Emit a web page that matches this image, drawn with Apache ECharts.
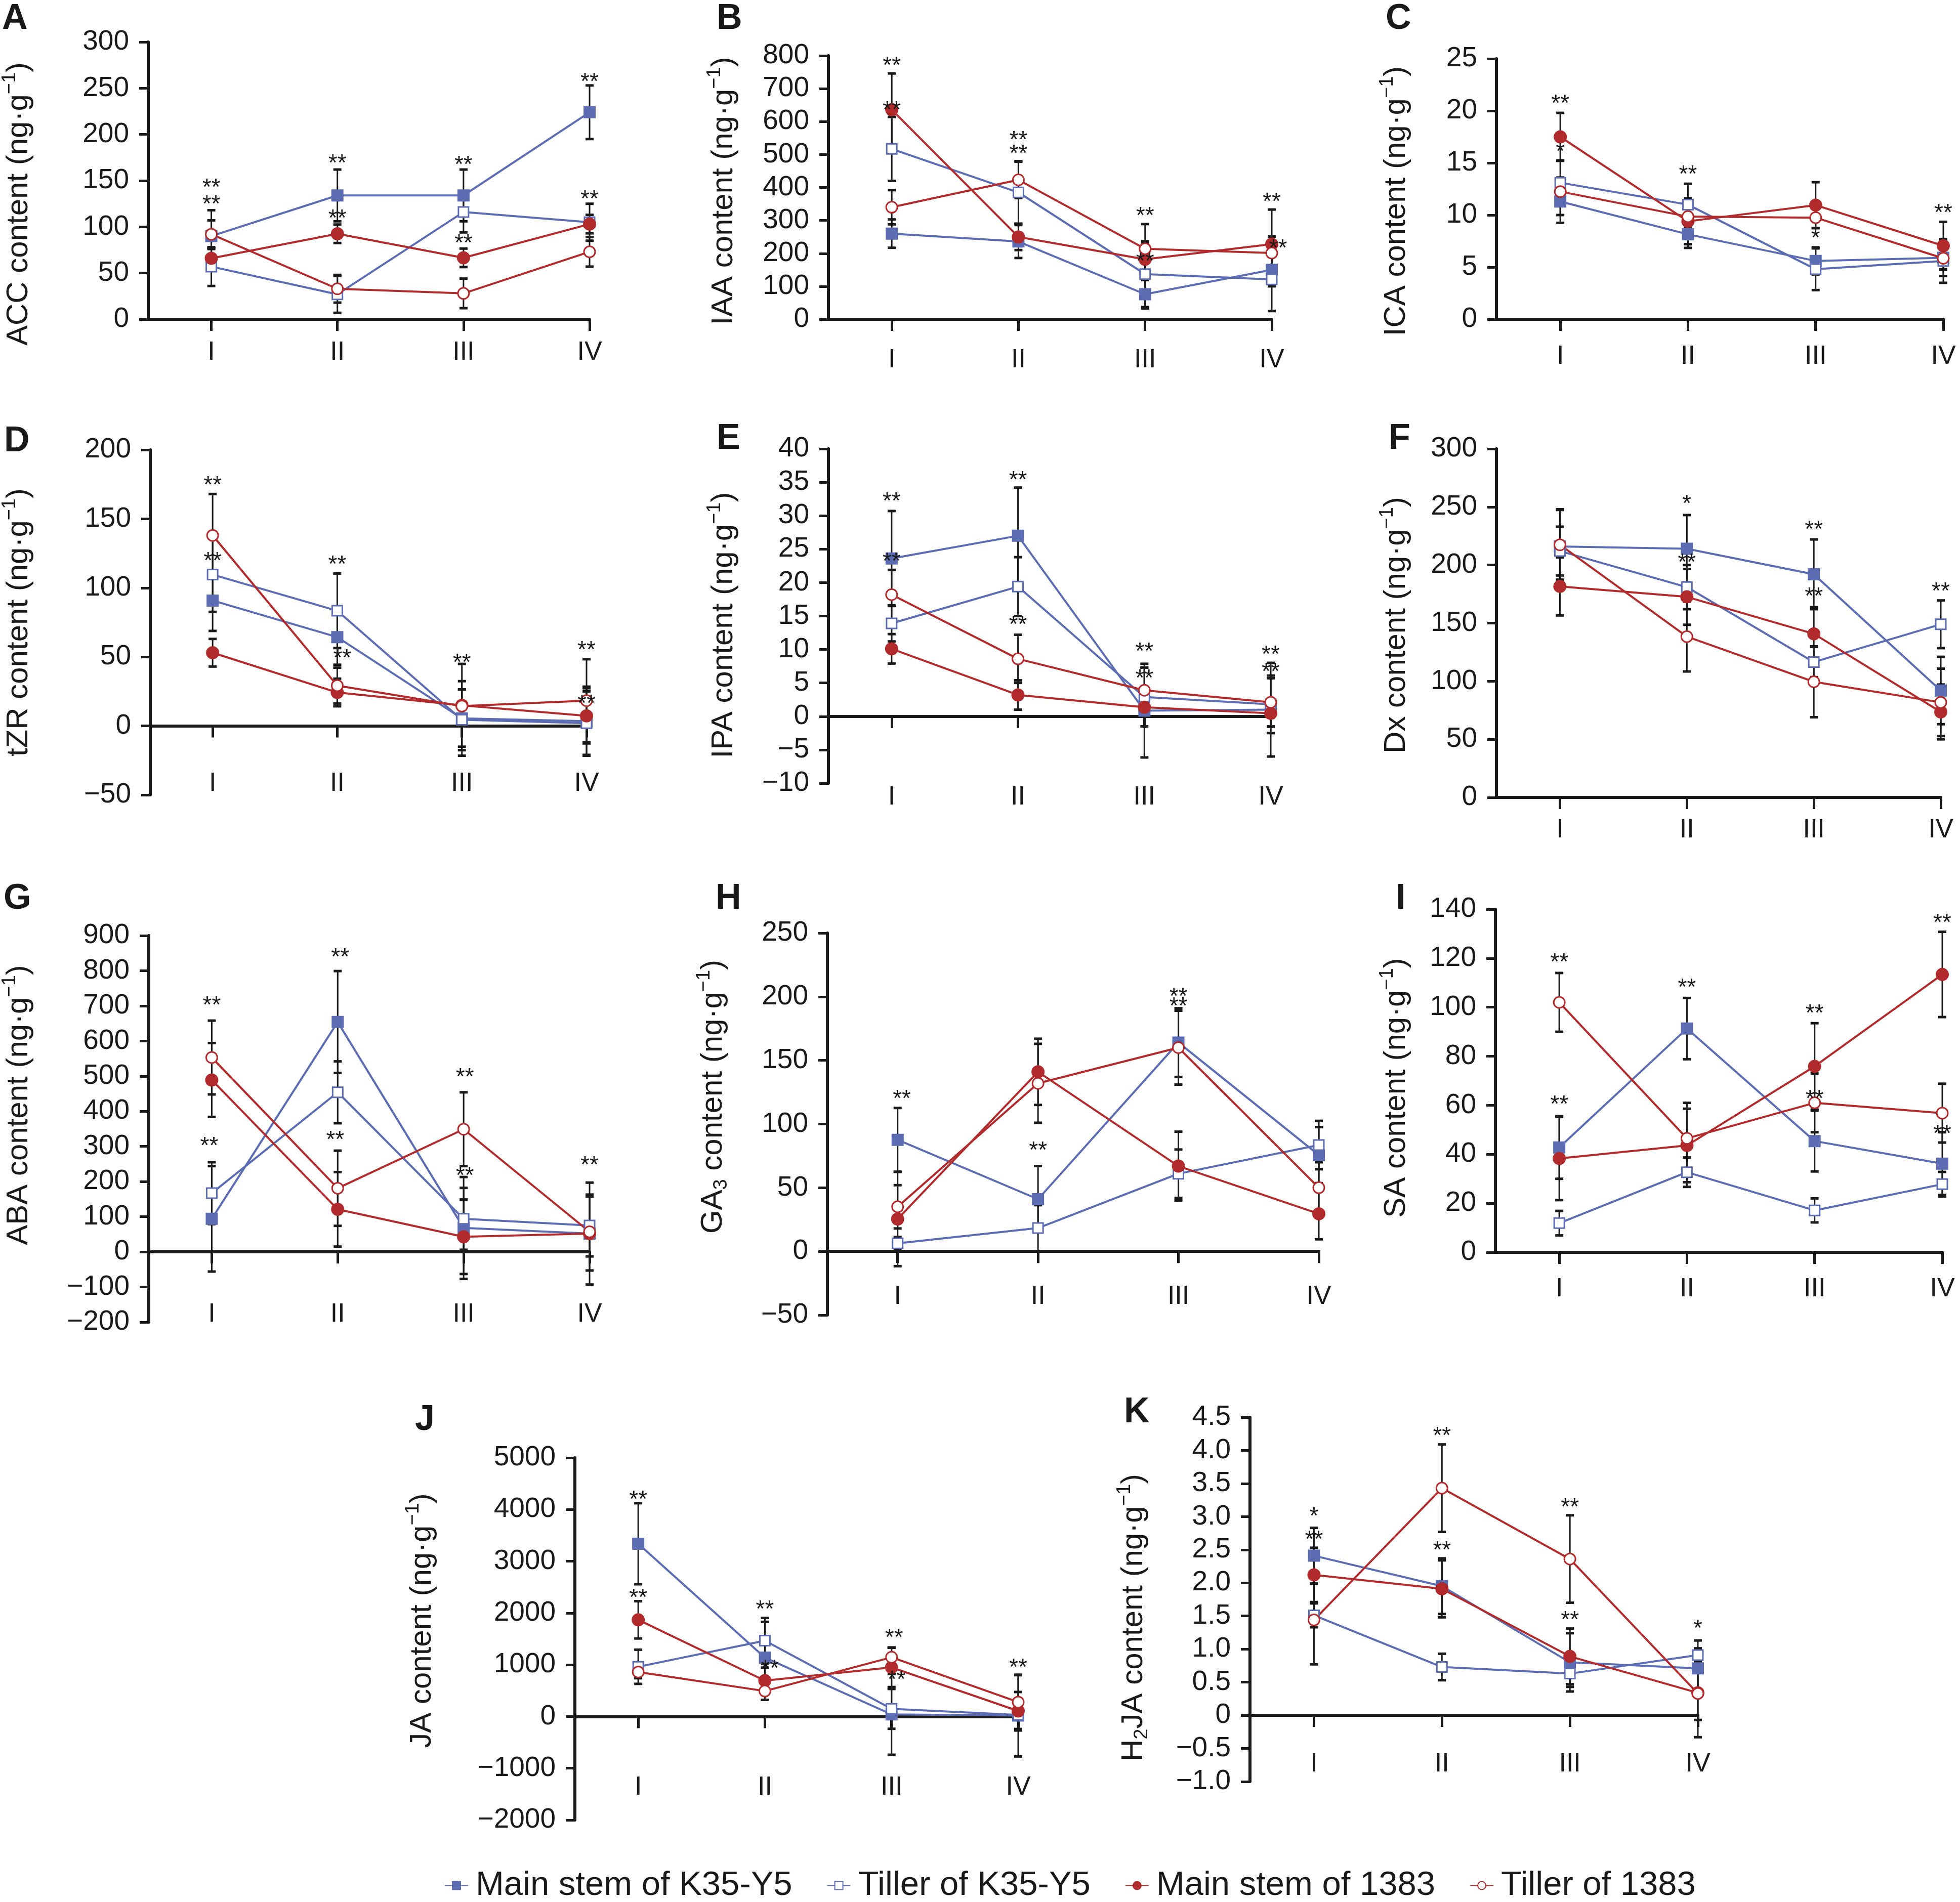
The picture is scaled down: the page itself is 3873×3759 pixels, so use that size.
<!DOCTYPE html>
<html><head><meta charset="utf-8">
<script src="https://cdn.jsdelivr.net/npm/echarts@6/dist/echarts.min.js"></script>
<style>html,body{margin:0;padding:0;background:#fff}#c{width:3873px;height:3759px}</style>
</head><body><div id="c"></div>
<script>
// ---------- data ----------
const stages = ['I', 'II', 'III', 'IV'];
const seriesNames = ['Main stem of K35-Y5', 'Tiller of K35-Y5', 'Main stem of 1383', 'Tiller of 1383'];
// rows: Main stem K35-Y5, Tiller K35-Y5, Main stem 1383, Tiller 1383 ; columns: I..IV
const ACC_mean = [[90,134,134,224],[57,27,116,105],[66,92.5,66.5,103],[92,33,28,73]];
const ACC_sd   = [[28,28,28,29],[21,20,22,20],[10,10,10,10],[15,15,16,16]];
const ACC_sig  = [[1,147,'**'],[1,129,'**'],[2,173.6,'**'],[2,113.5,'**'],[3,172,'**'],[3,87,'**'],[4,261.7,'**'],[4,134.5,'**']];

const IAA_mean = [[260,236,76,150],[517,385,137,121],[636,250,182,228],[340,423,214,201]];
const IAA_sd   = [[43,50,43,50],[97,95,100,96],[110,40,50,105],[52,55,75,50]];
const IAA_sig  = [[1,783,'**'],[1,647,'**'],[2,557,'**'],[2,516,'**'],[3,326,'**'],[3,189,'**'],[4,369.5,'**'],[4.05,228,'**']];

const ICA_mean = [[11.3,8.15,5.6,5.9],[13.1,11.0,4.8,5.6],[17.5,9.4,10.95,7.05],[12.25,9.85,9.75,5.85]];
const ICA_sd   = [[1.3,1.3,1.3,1.1],[0.5,2.0,2.0,2.1],[2.3,2.2,2.2,2.3],[3.0,1.0,1.0,1.7]];
const ICA_sig  = [[1,21.1,'**'],[1,16.5,'*'],[2,14.3,'**'],[3,8.2,'*'],[4,10.6,'**']];

const TZR_mean = [[90.8,64.3,5.4,3.4],[109.6,83.4,4.4,2.0],[53,24.2,14.9,7.3],[138,29.2,14.3,18.3]];
const TZR_sd   = [[22,20,27,25],[27,27,22,23],[10,10,30,20],[30,13,12,30]];
const TZR_sig  = [[1,177.5,'**'],[1,122.5,'**'],[2,120,'**'],[2.04,52,'**'],[3,49,'**'],[4,58,'**'],[4,19,'**']];

const IPA_mean = [[23.6,27.0,0.86,1.0],[13.9,19.4,2.9,1.8],[10.1,3.2,1.36,0.45],[18.2,8.6,3.9,2.1]];
const IPA_sd   = [[7.1,7.2,7.0,7.0],[2.7,4.4,4.4,4.3],[2.2,2.2,1.0,2.0],[3.7,3.6,3.4,3.6]];
const IPA_sig  = [[1,32.8,'**'],[1,23.8,'**'],[2,36,'**'],[2,14.3,'**'],[3,10.3,'**'],[3,6.3,'**'],[4,9.9,'**'],[4,7.3,'**']];

const DX_mean  = [[216,214,192,92],[212,181,116.5,149],[181.6,172.6,140.8,73.6],[217.4,138.4,99.5,81.8]];
const DX_sd    = [[32,29,30,29],[21,19,13,20.5],[25,24,23,23.6],[30,30,30.5,29]];
const DX_sig   = [[2,256.3,'*'],[2,205.6,'**'],[3,234,'**'],[3,176.6,'**'],[4,180.9,'**']];

const ABA_mean = [[94,654,68,52],[167,454,94,75],[489,121,43,52],[553,181,349,57]];
const ABA_sd   = [[150,145,145,145],[88,88,88,88],[105,106,106,105],[105,107,105,5]];
const ABA_sig  = [[1,713.6,'**'],[0.98,314,'**'],[2.02,851,'**'],[1.98,330.6,'**'],[3.01,508.8,'**'],[3.01,228.7,'**'],[4,259,'**']];

const GA3_mean = [[87.6,41,164,75.6],[6.3,18.3,61,83.5],[25.4,141,67,29.5],[35,132,160,50]];
const GA3_sd   = [[25,26,27,22],[5,18,19,19],[37,26,27,20],[17,31,29,20]];
const GA3_sig  = [[1.03,123,'**'],[2,82.5,'**'],[3,203.5,'**'],[3,196,'**']];

const SA_mean  = [[42.8,91.3,45.4,36.2],[11.9,32.7,17.1,27.8],[38.3,43.6,75.9,113.4],[102,46.5,61,56.8]];
const SA_sd    = [[12.8,12.5,12.4,12.8],[5,6,4.9,5],[17,15,17.6,17.4],[12,14.5,12,12]];
const SA_sig   = [[1,120.2,'**'],[1,62,'**'],[2,109.7,'**'],[3,99.2,'**'],[3,64.3,'**'],[4,136.3,'**'],[4,50.2,'**']];

const JA_mean  = [[3339,1139,41,18],[961,1465,148,30],[1868,694,949,107],[860,492,1145,279]];
const JA_sd    = [[783,690,780,790],[330,440,385,300],[360,250,380,367],[120,170,190,520]];
const JA_sig   = [[1,4270,'**'],[1,2372,'**'],[2,2153,'**'],[2.04,1008,'**'],[3.02,1601,'**'],[3.04,789,'**'],[4,1026,'**']];

const H2JA_mean = [[2.41,1.95,0.8,0.71],[1.51,0.73,0.63,0.91],[2.12,1.91,0.89,0.34],[1.44,3.43,2.36,0.33]];
const H2JA_sd   = [[0.42,0.42,0.44,0.42],[0.18,0.2,0.2,0.1],[0.41,0.43,0.42,0.67],[0.67,0.66,0.66,0.4]];
const H2JA_sig  = [[1,3.07,'*'],[1,2.72,'**'],[2,4.28,'**'],[2,2.56,'**'],[3,3.21,'**'],[3,1.5,'**'],[4,1.37,'*']];

// axis ranges [min, max, interval]
const ACC_range = [0,300,50], IAA_range = [0,800,100], ICA_range = [0,25,5], TZR_range = [-50,200,50],
      IPA_range = [-10,40,5], DX_range = [0,300,50], ABA_range = [-200,900,100], GA3_range = [-50,250,50],
      SA_range = [0,140,20], JA_range = [-2000,5000,1000], H2JA_range = [-1,4.5,0.5];

// ---------- panels ----------
const panels = [
  {letter:'A', mean:ACC_mean, sd:ACC_sd, sig:ACC_sig, range:ACC_range, name:'{n|ACC content (ng·g}{s|−1}{n|)}'},
  {letter:'B', mean:IAA_mean, sd:IAA_sd, sig:IAA_sig, range:IAA_range, name:'{n|IAA content (ng·g}{s|−1}{n|)}'},
  {letter:'C', mean:ICA_mean, sd:ICA_sd, sig:ICA_sig, range:ICA_range, name:'{n|ICA content (ng·g}{s|−1}{n|)}'},
  {letter:'D', mean:TZR_mean, sd:TZR_sd, sig:TZR_sig, range:TZR_range, name:'{n|tZR content (ng·g}{s|−1}{n|)}'},
  {letter:'E', mean:IPA_mean, sd:IPA_sd, sig:IPA_sig, range:IPA_range, name:'{n|IPA content (ng·g}{s|−1}{n|)}'},
  {letter:'F', mean:DX_mean, sd:DX_sd, sig:DX_sig, range:DX_range, name:'{n|Dx content (ng·g}{s|−1}{n|)}'},
  {letter:'G', mean:ABA_mean, sd:ABA_sd, sig:ABA_sig, range:ABA_range, name:'{n|ABA content (ng·g}{s|−1}{n|)}'},
  {letter:'H', mean:GA3_mean, sd:GA3_sd, sig:GA3_sig, range:GA3_range, name:'{n|GA}{b|3}{n| content (ng·g}{s|−1}{n|)}'},
  {letter:'I', mean:SA_mean, sd:SA_sd, sig:SA_sig, range:SA_range, name:'{n|SA content (ng·g}{s|−1}{n|)}'},
  {letter:'J', mean:JA_mean, sd:JA_sd, sig:JA_sig, range:JA_range, name:'{n|JA content (ng·g}{s|−1}{n|)}'},
  {letter:'K', mean:H2JA_mean, sd:H2JA_sd, sig:H2JA_sig, range:H2JA_range, name:'{n|H}{b|2}{n|JA content (ng·g}{s|−1}{n|)}', dec:true}
];
// layout (pixels): axis left, top, right(IV), bottom; x-label margin (from grid bottom); name gap; name shift; letter pos
const layout = [
  {l:282, t:83,   r:1165, b:631,  lm:40,  ng:220, sh:46,  lx:4,    ly:38},
  {l:1637,t:110,  r:2513, b:631,  lm:55,  ng:171, sh:7,   lx:1416, ly:38},
  {l:2957,t:116,  r:3840, b:631,  lm:48,  ng:162, sh:24,  lx:2738, ly:38},
  {l:286, t:889,  r:1159, b:1571, lm:-48, ng:224, sh:0,   lx:8,    ly:873},
  {l:1637,t:887,  r:2511, b:1548, lm:2,   ng:171, sh:18,  lx:1416, ly:868},
  {l:2957,t:887,  r:3835, b:1576, lm:39,  ng:162, sh:4,   lx:2744, ly:868},
  {l:284, t:1849, r:1165, b:2613, lm:-41, ng:221, sh:-47, lx:7,    ly:1777},
  {l:1635,t:1844, r:2606, b:2599, lm:-62, ng:190, sh:-54, lx:1414, ly:1777},
  {l:2955,t:1797, r:3838, b:2475, lm:47,  ng:160, sh:14,  lx:2758, ly:1777},
  {l:1136,t:2881, r:2012, b:3597, lm:-90, ng:266, sh:-36, lx:820,  ly:2807},
  {l:2470,t:2801, r:3355, b:3521, lm:-60, ng:194, sh:36,  lx:2221, ly:2792}
];

const FONT = '"Liberation Sans", Arial, Helvetica, sans-serif';
const INK = '#1a1a1a';
const BLUE = '#5b6cb2', RED = '#b12a2c';
const markStyles = [
  {symbol:'rect', color:BLUE, fill:BLUE, size:21},
  {symbol:'rect', color:BLUE, fill:'#ffffff', size:20},
  {symbol:'circle', color:RED, fill:RED, size:23},
  {symbol:'circle', color:RED, fill:'#ffffff', size:22}
];

function minusFmt(v, dec) {
  if (dec) return v === 0 ? '0' : (v < 0 ? '−' : '') + Math.abs(v).toFixed(1);
  return (v < 0 ? '−' : '') + Math.abs(v);
}

function renderErr(params, api) {
  const x = api.value(0), y = api.value(1), e = api.value(2);
  const top = api.coord([x, y + e]), bot = api.coord([x, y - e]);
  const hw = 8;
  const st = {stroke: INK, lineWidth: 3};
  const cap = {stroke: INK, lineWidth: 5};
  return {type: 'group', children: [
    {type: 'line', shape: {x1: top[0], y1: top[1], x2: bot[0], y2: bot[1]}, style: st},
    {type: 'line', shape: {x1: top[0] - hw, y1: top[1], x2: top[0] + hw, y2: top[1]}, style: cap},
    {type: 'line', shape: {x1: bot[0] - hw, y1: bot[1], x2: bot[0] + hw, y2: bot[1]}, style: cap}
  ]};
}
function renderSig(params, api) {
  const p = api.coord([api.value(0), api.value(1)]);
  const txt = api.value(2);
  return {type: 'text', x: p[0], y: p[1] + 10,
    style: {text: String(txt), font: '46px ' + FONT, fill: INK, align: 'center', verticalAlign: 'middle'}};
}

const grid = [], xAxis = [], yAxis = [], series = [], graphic = [];
panels.forEach((pd, i) => {
  const L = layout[i];
  grid.push({left: L.l, top: L.t, width: L.r - L.l, height: L.b - L.t, containLabel: false});
  xAxis.push({
    type: 'value', gridIndex: i, min: 0.5, max: 4,
    axisLine: {show: true, onZero: true, lineStyle: {color: INK, width: 6}},
    axisTick: {show: true, customValues: [1, 2, 3, 4], length: 23, lineStyle: {color: INK, width: 5}},
    axisLabel: {show: true, customValues: [1, 2, 3, 4], margin: L.lm, fontSize: 52, fontFamily: FONT, color: INK,
      formatter: v => stages[Math.round(v) - 1]},
    splitLine: {show: false}
  });
  const sup = {fontSize: 38, fontFamily: FONT, color: INK, lineHeight: 50, verticalAlign: 'top'};
  const sub = {fontSize: 38, fontFamily: FONT, color: INK, lineHeight: 50, verticalAlign: 'bottom'};
  const pad = L.sh >= 0 ? [0, 2 * L.sh, 0, 0] : [0, 0, 0, -2 * L.sh];
  yAxis.push({
    type: 'value', gridIndex: i, min: pd.range[0], max: pd.range[1], interval: pd.range[2],
    name: pd.name, nameLocation: 'middle', nameGap: L.ng,
    nameTextStyle: {fontSize: 60, fontFamily: FONT, color: INK, padding: pad,
      rich: {n: {fontSize: 60, fontFamily: FONT, color: INK, lineHeight: 72}, s: sup, b: sub}},
    axisLine: {show: true, lineStyle: {color: INK, width: 6}},
    axisTick: {show: true, length: 18, lineStyle: {color: INK, width: 5}},
    axisLabel: {margin: 38, fontSize: 55, fontFamily: FONT, color: INK, formatter: v => minusFmt(v, pd.dec)},
    splitLine: {show: false}
  });
  // error bars
  const errData = [];
  pd.mean.forEach((row, s) => row.forEach((v, k) => errData.push([k + 1, v, pd.sd[s][k]])));
  series.push({type: 'custom', xAxisIndex: i, yAxisIndex: i, renderItem: renderErr, data: errData, z: 2,
    silent: true, clip: false, encode: {x: 0, y: 1}});
  // lines
  pd.mean.forEach((row, s) => {
    const ms = markStyles[s];
    series.push({
      type: 'line', name: seriesNames[s], xAxisIndex: i, yAxisIndex: i, z: 3,
      data: row.map((v, k) => [k + 1, v]),
      symbol: ms.symbol, symbolSize: ms.size, showAllSymbol: true,
      lineStyle: {color: ms.color, width: 4},
      itemStyle: {color: ms.fill, borderColor: ms.color, borderWidth: 3},
      emphasis: {disabled: true}
    });
  });
  // significance marks
  series.push({type: 'custom', xAxisIndex: i, yAxisIndex: i, z: 5, silent: true, clip: false,
    renderItem: renderSig, data: pd.sig, encode: {x: 0, y: 1}});
  graphic.push({type: 'text', x: L.lx, y: L.ly,
    style: {text: pd.letter, font: 'bold 70px ' + FONT, fill: INK, align: 'left', verticalAlign: 'middle'}});
});

const chart = echarts.init(document.getElementById('c'), null, {renderer: 'canvas'});
chart.setOption({
  animation: false,
  backgroundColor: '#ffffff',
  grid, xAxis, yAxis, series, graphic,
  legend: {
    data: seriesNames, left: 873, top: 3688, itemWidth: 46, itemHeight: 20, itemGap: 68,
    textStyle: {fontSize: 67, fontFamily: FONT, color: INK, padding: [0, 0, 0, 10]}
  }
});
</script></body></html>
